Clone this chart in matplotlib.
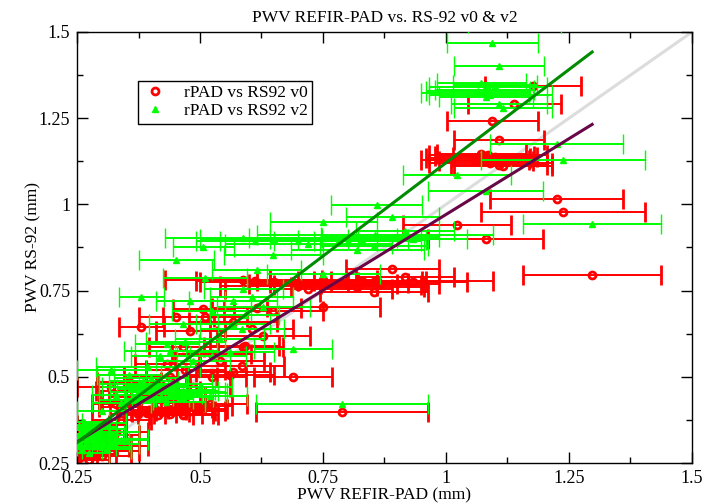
import matplotlib
matplotlib.use("Agg")
import matplotlib.pyplot as plt
from matplotlib.lines import Line2D
from matplotlib.ticker import MultipleLocator, FuncFormatter
import numpy as np

plt.rcParams['font.family'] = ['Liberation Serif', 'DejaVu Serif']
plt.rcParams['font.size'] = 12

# REFIR-PAD PWV (shared by both series), its error, RS-92 v0 and v2 PWV
pad_x = [
    # upper group
    1.094, 1.108, 1.177, 1.139, 1.072, 1.078, 1.059, 1.081, 1.108, 1.116,
    1.085, 1.100, 1.225, 1.238, 1.023, 1.081, 1.297, 1.065, 1.090,
    # mid-high
    0.859, 0.891, 0.751, 0.917, 0.932, 0.866, 0.830, 0.783, 0.750, 0.700,
    0.650, 0.588, 0.612, 0.856, 0.854, 0.820, 0.751, 0.649, 0.788, 0.689,
    0.720, 0.800,
    # mid
    0.507, 0.452, 0.381, 0.466, 0.432, 0.615, 0.510, 0.588, 0.567, 0.605,
    0.629, 0.524, 0.567, 0.585, 0.561, 0.524, 0.419, 0.480, 0.486, 0.394,
    0.591, 0.466, 0.540, 0.470, 0.440,
    # lower-mid
    0.373, 0.392, 0.439, 0.466, 0.410, 0.420, 0.450, 0.480, 0.500, 0.520,
    0.350, 0.330, 0.360, 0.385, 0.430, 0.460, 0.400, 0.340, 0.300, 0.320,
    0.355, 0.375, 0.445, 0.495, 0.415,
    # lower-left
    0.250, 0.255, 0.260, 0.265, 0.270, 0.275, 0.280, 0.285, 0.290, 0.295,
    0.300, 0.305, 0.310, 0.315, 0.320, 0.330, 0.265, 0.290, 0.340, 0.258,
    0.272, 0.300, 0.282,
]
pad_err = [
    0.092, 0.091, 0.097, 0.094, 0.090, 0.100, 0.110, 0.095, 0.098, 0.100,
    0.120, 0.085, 0.135, 0.166, 0.110, 0.117, 0.141, 0.105, 0.125,
    0.092, 0.095, 0.108, 0.100, 0.110, 0.120, 0.130, 0.140, 0.150, 0.160,
    0.150, 0.160, 0.120, 0.240, 0.110, 0.135, 0.115, 0.100, 0.175, 0.080,
    0.170, 0.150,
    0.062, 0.076, 0.045, 0.070, 0.065, 0.090, 0.085, 0.080, 0.090, 0.085,
    0.095, 0.080, 0.075, 0.085, 0.090, 0.070, 0.060, 0.070, 0.075, 0.105,
    0.070, 0.060, 0.090, 0.080, 0.095,
    0.055, 0.060, 0.065, 0.070, 0.062, 0.058, 0.075, 0.070, 0.065, 0.075,
    0.055, 0.050, 0.060, 0.070, 0.080, 0.050, 0.075, 0.060, 0.050, 0.070,
    0.065, 0.080, 0.085, 0.060, 0.070,
    0.030, 0.035, 0.040, 0.035, 0.045, 0.040, 0.050, 0.045, 0.040, 0.050,
    0.055, 0.045, 0.050, 0.060, 0.055, 0.065, 0.050, 0.060, 0.055, 0.035,
    0.045, 0.060, 0.050,
]
rs92_v0 = [
    1.242, 1.188, 1.343, 1.291, 1.147, 1.140, 1.130, 1.125, 1.115, 1.110,
    1.143, 1.138, 1.015, 0.977, 0.939, 0.900, 0.794, 1.135, 1.120,
    0.779, 0.813, 0.781, 0.790, 0.775, 0.770, 0.778, 0.772, 0.768, 0.763,
    0.776, 0.781, 0.779, 0.779, 0.745, 0.760, 0.701, 0.690, 0.399, 0.500,
    0.755, 0.765,
    0.697, 0.672, 0.645, 0.585, 0.537, 0.700, 0.672, 0.587, 0.660, 0.640,
    0.619, 0.566, 0.515, 0.532, 0.505, 0.498, 0.480, 0.634, 0.470, 0.460,
    0.590, 0.391, 0.545, 0.520, 0.500,
    0.392, 0.396, 0.393, 0.390, 0.405, 0.398, 0.410, 0.402, 0.415, 0.420,
    0.412, 0.420, 0.430, 0.440, 0.445, 0.425, 0.455, 0.375, 0.360, 0.470,
    0.485, 0.430, 0.400, 0.408, 0.388,
    0.280, 0.265, 0.300, 0.330, 0.290, 0.260, 0.310, 0.340, 0.275, 0.320,
    0.295, 0.350, 0.305, 0.330, 0.285, 0.340, 0.360, 0.315, 0.300, 0.320,
    0.345, 0.270, 0.300,
]
rs92_v2 = [
    1.467, 1.401, 1.590, 1.525, 1.351, 1.333, 1.324, 1.312, 1.291, 1.281,
    1.340, 1.345, 1.174, 1.130, 1.084, 1.039, 0.944, 1.330, 1.318,
    0.997, 0.963, 0.949, 0.924, 0.900, 0.905, 0.898, 0.900, 0.902, 0.895,
    0.900, 0.903, 0.895, 0.912, 0.880, 0.868, 0.798, 0.852, 0.420, 0.580,
    0.885, 0.895,
    0.876, 0.839, 0.731, 0.653, 0.595, 0.811, 0.787, 0.755, 0.721, 0.731,
    0.701, 0.692, 0.653, 0.639, 0.571, 0.561, 0.561, 0.720, 0.547, 0.527,
    0.680, 0.440, 0.610, 0.600, 0.575,
    0.455, 0.465, 0.450, 0.460, 0.472, 0.440, 0.478, 0.455, 0.470, 0.445,
    0.432, 0.448, 0.470, 0.488, 0.428, 0.440, 0.497, 0.425, 0.400, 0.520,
    0.505, 0.480, 0.462, 0.452, 0.435,
    0.300, 0.310, 0.290, 0.345, 0.320, 0.280, 0.335, 0.355, 0.300, 0.330,
    0.312, 0.365, 0.290, 0.340, 0.305, 0.320, 0.370, 0.350, 0.318, 0.335,
    0.360, 0.295, 0.325,
]

# linear fits and 1:1 reference
fit_x = [0.25, 1.297]
fit_v0 = [0.311, 1.232]
fit_v2 = [0.309, 1.442]
one_to_one = [0.25, 1.5]

RED = '#ff0000'
GREEN = '#00ff00'

fig = plt.figure(figsize=(7.2, 5.04), dpi=100)
ax = fig.add_axes([77 / 720, 1 - 463 / 504, 615 / 720, 431 / 504])

ax.plot(one_to_one, one_to_one, color='#dcdcdc', lw=2.2, zorder=1)
ax.errorbar(pad_x, rs92_v0, xerr=pad_err, fmt='o', color=RED, ecolor=RED,
            mfc='none', mec=RED, ms=5, mew=2, elinewidth=1.4, capsize=7,
            capthick=1.4, zorder=2)
ax.errorbar(pad_x, rs92_v2, xerr=pad_err, fmt='^', color=GREEN, ecolor=GREEN,
            mfc=GREEN, mec=GREEN, ms=5, mew=1, elinewidth=1.4, capsize=7,
            capthick=1.4, zorder=3)
ax.plot(fit_x, fit_v0, color='#670748', lw=2.2, zorder=5)
ax.plot(fit_x, fit_v2, color='#008b00', lw=2.2, zorder=6)

ax.set_xlim(0.25, 1.5)
ax.set_ylim(0.25, 1.5)
fmt = FuncFormatter(lambda v, p: '%g' % round(v, 3))
for axis in (ax.xaxis, ax.yaxis):
    axis.set_major_locator(MultipleLocator(0.25))
    axis.set_minor_locator(MultipleLocator(0.125))
    axis.set_major_formatter(fmt)
ax.tick_params(which='both', direction='in', top=True, right=True, width=1,
               labelsize=13, pad=5)
ax.tick_params(which='major', length=8)
ax.tick_params(which='minor', length=4)
for sp in ax.spines.values():
    sp.set_linewidth(1.0)

ax.set_xlabel('PWV REFIR-PAD (mm)', fontsize=12.5, labelpad=0)
ax.set_ylabel('PWV RS-92 (mm)', fontsize=12.5)
ax.yaxis.set_label_coords((41 - 77) / 615, 0.5)
ax.set_title('PWV REFIR-PAD vs. RS-92 v0 & v2', fontsize=12.5, pad=7)

handles = [
    Line2D([], [], ls='none', marker='o', mfc='none', mec=RED, mew=2, ms=5),
    Line2D([], [], ls='none', marker='^', mfc=GREEN, mec=GREEN, ms=5),
]
leg = ax.legend(handles, ['rPAD vs RS92 v0', 'rPAD vs RS92 v2'],
                loc='upper left', bbox_to_anchor=((138 - 77) / 615, (463 - 81) / 431),
                fancybox=False, framealpha=1, edgecolor='black', fontsize=12.5,
                borderpad=0.25, labelspacing=0.1, handlelength=1.5,
                handletextpad=0.9, borderaxespad=0)
leg.get_frame().set_linewidth(1.0)

fig.savefig('out.png', dpi=100)
